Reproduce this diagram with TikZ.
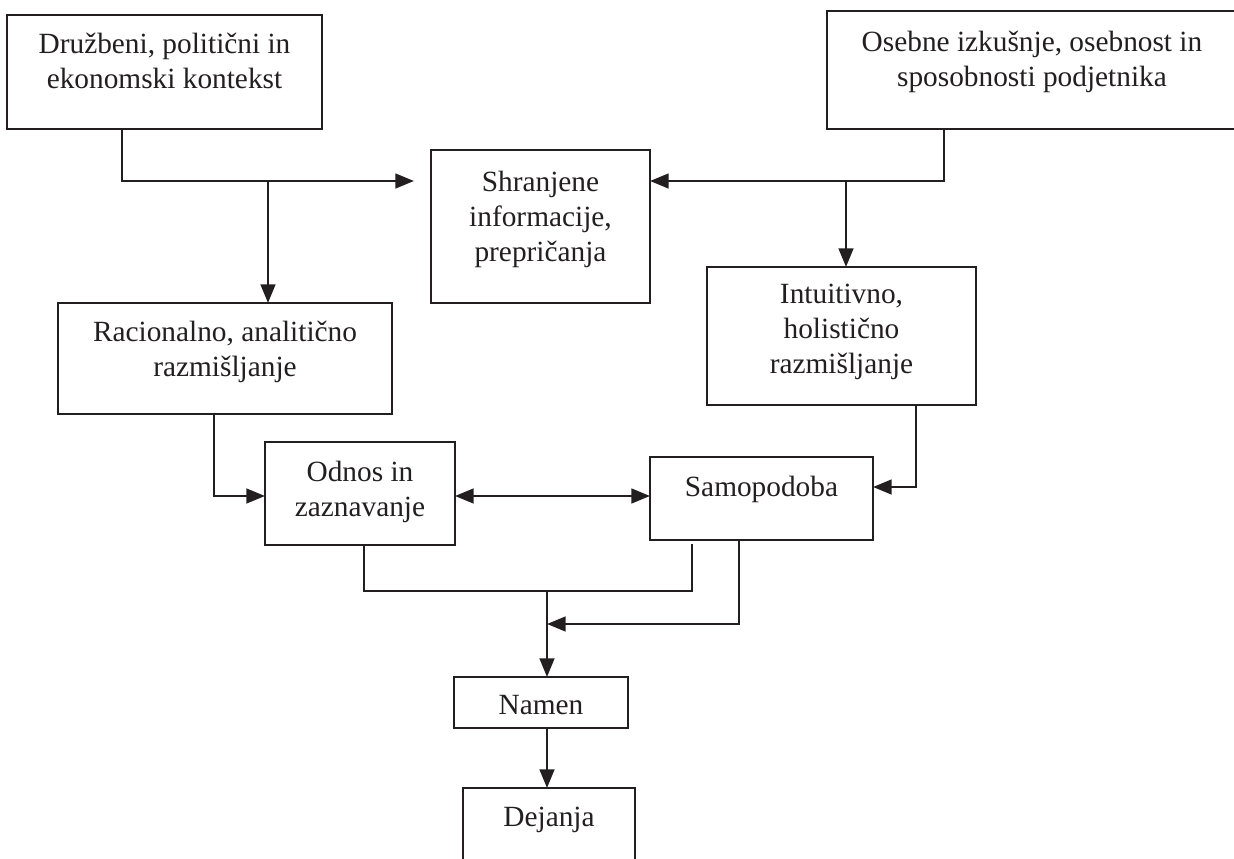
\documentclass[tikz,border=0pt]{standalone}
\usepackage{fontspec}
\setmainfont{Liberation Serif}
\usetikzlibrary{arrows.meta,fit}
\definecolor{ink}{RGB}{35,31,32}
\tikzset{
  box/.style={draw=ink, line width=1.5pt, inner sep=0pt, outer sep=0pt},
  txt/.style={inner sep=0pt, outer sep=0pt, anchor=north, align=center, text=ink,
              font=\fontsize{22pt}{26.25pt}\selectfont},
  conn/.style={draw=ink, line width=1.9pt},
  tip/.tip={Triangle[length=14pt,width=11pt]},
  arr/.style={conn, -tip},
  darr/.style={conn, tip-tip}
}
\begin{document}
\begin{tikzpicture}[x=0.75pt,y=-0.75pt]
\useasboundingbox (0,0) rectangle (1234,859);
\clip (0,0) rectangle (1234,859);
\fill[white] (0,0) rectangle (1234,859);
% boxes
\node[box, fit={(7,15) (322,129)}] (b1) {};
\node[box, fit={(827,11) (1237,129)}] (b2) {};
\node[box, fit={(431,150) (650,303)}] (sh) {};
\node[box, fit={(58,303) (392,414)}] (ra) {};
\node[box, fit={(707,267) (976,405)}] (in) {};
\node[box, fit={(265,442) (455,545)}] (od) {};
\node[box, fit={(650,457) (873,540)}] (sa) {};
\node[box, fit={(454,677) (628,728)}] (na) {};
\node[box, fit={(463,788) (635,880)}] (de) {};
% texts
\node[txt] (b1t) at (164.5,33) {Družbeni, politični in\\ekonomski kontekst};
\node[txt] (b2t) at (1032,31) {Osebne izkušnje, osebnost in\\sposobnosti podjetnika};
\node[txt] (sht) at (540.5,171) {Shranjene\\informacije,\\prepričanja};
\node[txt] (rat) at (225,321) {Racionalno, analitično\\razmišljanje};
\node[txt] (int) at (841.5,284) {Intuitivno,\\holistično\\razmišljanje};
\node[txt] (odt) at (360,461) {Odnos in\\zaznavanje};
\node[txt] (sat) at (761.5,476) {Samopodoba};
\node[txt] (nat) at (541,695) {Namen};
\node[txt] (det) at (549,807) {Dejanja};
% junction coordinates
\coordinate (j1) at (122,181);
\coordinate (j2) at (268,181);
\coordinate (j3) at (944,181);
\coordinate (j4) at (846,181);
\coordinate (j5) at (214,496);
\coordinate (j6) at (916,487);
\coordinate (j7) at (364,591);
\coordinate (j8) at (692,591);
\coordinate (e1) at (692,544);
\coordinate (j9) at (547,591);
\coordinate (j10) at (739,624);
\coordinate (j11) at (547,624);
% connectors
\draw[arr, shorten >=12.75pt] (b1.south -| j1) |- (sh.west |- j1);
\draw[arr] (j2) -- (ra.north -| j2);
\draw[arr] (b2.south -| j3) |- (sh.east |- j3);
\draw[arr] (j4) -- (in.north -| j4);
\draw[arr] (ra.south -| j5) |- (od.west |- j5);
\draw[darr] (od.east |- j5) -- (sa.west |- j5);
\draw[arr] (in.south -| j6) |- (sa.east |- j6);
\draw[conn] (od.south -| j7) |- (j8) -- (e1);
\draw[arr] (j9) -- (na.north -| j9);
\draw[arr] (sa.south -| j10) |- (j11);
\draw[arr] (na.south -| j9) -- (de.north -| j9);
\end{tikzpicture}
\end{document}
